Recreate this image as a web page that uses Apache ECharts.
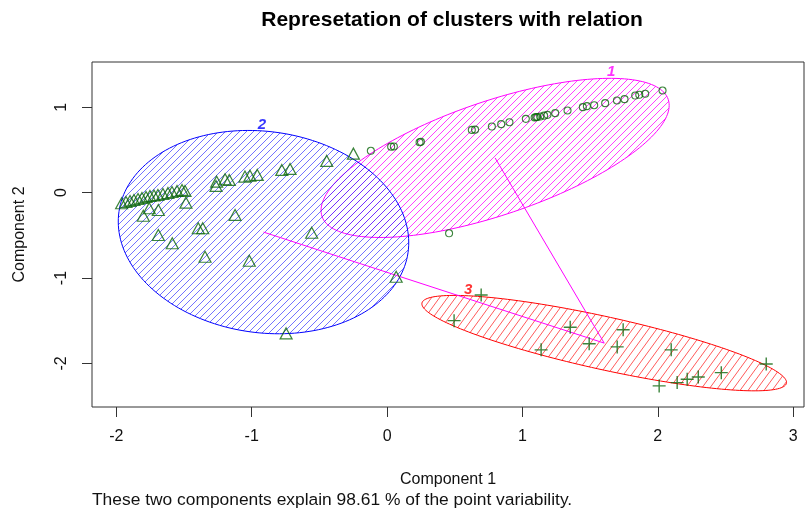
<!DOCTYPE html>
<html>
<head>
<meta charset="utf-8">
<script src="https://cdn.jsdelivr.net/npm/echarts@6/dist/echarts.min.js"></script>
<style>html,body{margin:0;padding:0;background:#fff}#c{width:806px;height:512px}</style>
</head>
<body>
<div id="c"></div>
<script>
// ---------------- data ----------------
const xTicks = [-2, -1, 0, 1, 2, 3];
const yTicks = [-2, -1, 0, 1];

// cluster 1 (circles)
const cluster1 = [
  [-0.120, 0.490], [0.030, 0.539], [0.050, 0.541], [0.240, 0.590], [0.250, 0.595],
  [0.626, 0.735], [0.650, 0.738], [0.774, 0.774], [0.843, 0.802], [0.904, 0.825],
  [1.025, 0.864], [1.090, 0.880], [1.101, 0.884], [1.110, 0.886], [1.131, 0.891],
  [1.160, 0.902], [1.185, 0.911], [1.242, 0.931], [1.333, 0.962], [1.446, 1.001],
  [1.476, 1.013], [1.530, 1.024], [1.611, 1.048], [1.698, 1.079], [1.754, 1.095],
  [1.833, 1.137], [1.863, 1.146], [1.907, 1.158], [2.035, 1.196], [0.458, -0.476]
];
// cluster 2 (triangles)
const cluster2 = [
  [-1.961, -0.124], [-1.929, -0.109], [-1.899, -0.097], [-1.870, -0.086], [-1.840, -0.074],
  [-1.811, -0.062], [-1.781, -0.050], [-1.752, -0.039], [-1.722, -0.033], [-1.693, -0.027],
  [-1.656, -0.015], [-1.619, -0.004], [-1.589, 0.008], [-1.552, 0.020], [-1.515, 0.032],
  [-1.493, 0.020], [-1.486, -0.117], [-1.757, -0.183], [-1.690, -0.203], [-1.801, -0.270],
  [-1.123, -0.261], [-1.395, -0.417], [-1.362, -0.417], [-1.259, 0.129], [-1.197, 0.157],
  [-1.166, 0.149], [-1.264, 0.079], [-1.050, 0.188], [-1.013, 0.199], [-0.959, 0.208],
  [-0.778, 0.266], [-0.717, 0.278], [-1.690, -0.496], [-1.587, -0.593], [-1.345, -0.750],
  [-1.018, -0.797], [-0.557, -0.469], [0.067, -0.985], [-0.746, -1.648], [-0.446, 0.372],
  [-0.249, 0.457]
];
// cluster 3 (plus signs)
const cluster3 = [
  [0.695, -1.199], [0.495, -1.499], [1.353, -1.576], [1.138, -1.841], [1.493, -1.770],
  [1.744, -1.606], [1.700, -1.806], [2.099, -1.841], [2.010, -2.263], [2.143, -2.224],
  [2.217, -2.185], [2.299, -2.158], [2.469, -2.108], [2.801, -2.007]
];

// ellipses: centre (cx, cy) and two conjugate semi-diameters u, v (data units)
const ellipseCenters = [[0.798, 0.407], [-0.913, -0.462], [1.604, -1.762]];
const ellipseU = [[1.286, 0.615], [1.070, -0.035], [1.347, -0.460]];
const ellipseV = [[0.000, 0.700], [-0.080, 1.190], [0.000, 0.317]];
const clusterNames = ['1', '2', '3'];
const labelPos = [[1.656, 1.415], [-0.924, 0.790], [0.599, -1.141]];
// lines between centres of non-overlapping clusters
const centerLinks = [[0, 2], [1, 2]];

// ---------------- styling ----------------
const ellColors = ['#ff00ff', '#0000ff', '#ff0000'];
const hatchColors = ['rgba(255,0,255,0.75)', 'rgba(40,40,255,0.65)', 'rgba(255,0,0,0.65)'];
const hatchSize = [[7, 7], [7, 7], [8, 11]];
const ptColor = '#0b650b';
const FONT = '"Liberation Sans", Arial, sans-serif';

function hatch(color, w, h) {
  const c = document.createElement('canvas');
  c.width = w; c.height = h;
  const g = c.getContext('2d');
  g.strokeStyle = color; g.lineWidth = 1;
  g.beginPath();
  for (const dx of [-w, 0, w]) { g.moveTo(dx, h); g.lineTo(dx + w, 0); }
  g.stroke();
  return c;
}
const patterns = hatchColors.map((c, i) => hatch(c, hatchSize[i][0], hatchSize[i][1]));

const ellipseData = ellipseCenters.map((c, i) => [c[0], c[1], ellipseU[i][0], ellipseU[i][1], ellipseV[i][0], ellipseV[i][1], i]);

const chart = echarts.init(document.getElementById('c'), null, { renderer: 'canvas' });

const linkSeries = centerLinks.map(([a, b]) => ({
  type: 'line',
  data: [ellipseCenters[a], ellipseCenters[b]],
  symbol: 'none',
  lineStyle: { color: '#ff00ff', width: 1 },
  silent: true, z: 4, animation: false
}));

chart.setOption({
  animation: false,
  grid: { left: 92, right: 2, top: 62, bottom: 105, show: true, borderColor: '#333', borderWidth: 1, containLabel: false },
  xAxis: {
    type: 'value', min: -2.18, max: 3.08,
    name: 'Component 1', nameLocation: 'middle', nameGap: 65,
    nameTextStyle: { fontFamily: FONT, fontSize: 16, color: '#111' },
    axisLine: { show: false, onZero: false },
    splitLine: { show: false },
    axisTick: { show: true, length: 10, lineStyle: { color: '#333' }, customValues: xTicks },
    axisLabel: { customValues: xTicks, margin: 22, fontFamily: FONT, fontSize: 16, color: '#111' }
  },
  yAxis: {
    type: 'value', min: -2.51, max: 1.53,
    name: 'Component 2', nameLocation: 'middle', nameGap: 64,
    nameTextStyle: { fontFamily: FONT, fontSize: 16, color: '#111' },
    axisLine: { show: false, onZero: false },
    splitLine: { show: false },
    axisTick: { show: true, length: 10, lineStyle: { color: '#333' }, customValues: yTicks },
    axisLabel: { customValues: yTicks, margin: 22, rotate: 90, fontFamily: FONT, fontSize: 16, color: '#111' }
  },
  graphic: [
    { type: 'text', x: 452, y: 10, style: { text: 'Represetation of clusters with relation', font: 'bold 21px ' + FONT, fill: '#000', textAlign: 'center' } },
    { type: 'text', x: 92, y: 492, style: { text: 'These two components explain 98.61 % of the point variability.', font: '17.4px ' + FONT, fill: '#111' } }
  ],
  series: [
    {
      type: 'custom',
      data: ellipseData,
      encode: { x: 0, y: 1 },
      z: 2, silent: true,
      clip: true,
      renderItem: function (params, api) {
        const cx = api.value(0), cy = api.value(1);
        const ux = api.value(2), uy = api.value(3), vx = api.value(4), vy = api.value(5);
        const idx = api.value(6);
        const pts = [];
        const N = 180;
        for (let k = 0; k < N; k++) {
          const t = 2 * Math.PI * k / N;
          pts.push(api.coord([cx + ux * Math.cos(t) + vx * Math.sin(t), cy + uy * Math.cos(t) + vy * Math.sin(t)]));
        }
        return {
          type: 'polygon',
          shape: { points: pts },
          style: { fill: { image: patterns[idx], repeat: 'repeat' }, stroke: ellColors[idx], lineWidth: 1 }
        };
      }
    },
    ...linkSeries,
    {
      type: 'scatter', data: cluster1, symbol: 'circle', symbolSize: 7, z: 5,
      itemStyle: { color: 'rgba(0,0,0,0)', borderColor: ptColor, borderWidth: 1.1 }
    },
    {
      type: 'scatter', data: cluster2, symbol: 'triangle', symbolSize: [12, 11], z: 5,
      itemStyle: { color: 'rgba(0,0,0,0)', borderColor: ptColor, borderWidth: 1.2 }
    },
    {
      type: 'scatter', data: cluster3, symbol: 'path://M0,5L10,5M5,0L5,10', symbolSize: 13, z: 5,
      itemStyle: { color: 'rgba(0,0,0,0)', borderColor: ptColor, borderWidth: 1.4 }
    },
    {
      type: 'scatter', data: labelPos.map((p, i) => ({ value: p, label: { color: ellColors[i] } })),
      symbolSize: 0, z: 6, silent: true,
      label: {
        show: true, position: 'inside',
        formatter: p => clusterNames[p.dataIndex],
        fontFamily: FONT, fontSize: 15, fontWeight: 'bold', fontStyle: 'italic'
      }
    }
  ]
});
</script>
</body>
</html>
